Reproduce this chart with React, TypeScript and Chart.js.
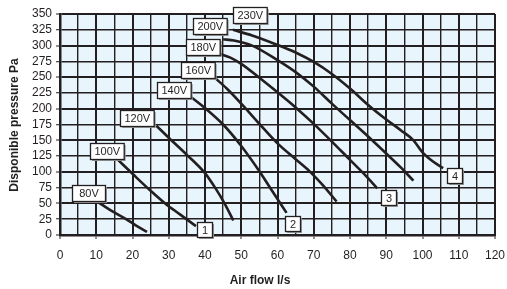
import React, { useEffect, useRef } from "react";
import { Chart, registerables } from "chart.js";

Chart.register(...registerables);

// Air flow (l/s) and pressure (Pa) for each fan curve
const flow80 = [10.5, 14, 18, 21, 24];
const pres80 = [52, 39, 26, 15, 5];
const flow100 = [16, 20, 25, 29, 33, 37.5];
const pres100 = [119, 97, 70, 50, 33, 14];
const flow120 = [26.6, 30, 35, 40, 43, 45.5, 47.8];
const pres120 = [173, 154, 127, 98, 73, 49, 23];
const flow140 = [35.8, 40, 45, 50, 55, 58.5, 62.5];
const pres140 = [220, 201, 175, 141, 101, 70, 35];
const flow160 = [42.5, 46, 50, 55, 60, 65, 69, 72.5, 76.3];
const pres160 = [250, 232, 208, 176, 145, 120, 100, 79, 53];
const flow180 = [44, 47, 50, 55, 60, 65, 70, 75, 80, 84, 87.5];
const pres180 = [287, 281, 271, 249, 226, 202, 176, 148, 119, 96, 74];
const flow200 = [45, 48, 53, 60, 65, 70, 75, 80, 85, 90, 94, 97.5];
const pres200 = [310, 308, 300, 277, 258, 235, 208, 182, 156, 129, 107, 86];
const flow230 = [47.7, 53, 60, 65, 70, 75, 80, 85, 90, 94, 97.5, 100, 103, 105.7];
const pres230 = [325, 316, 301, 289, 274, 255, 232, 206, 183, 166, 150, 131, 116, 106];

// Voltage labels (box centres in data units)
const voltLabels = ["80V", "100V", "120V", "140V", "160V", "180V", "200V", "230V"];
const voltX = [7.9, 13, 21.3, 31.4, 38, 39.4, 41.3, 52.3];
const voltY = [66.6, 133, 185.5, 229, 261, 298, 331, 349];

// Curve-end number labels
const endLabels = ["1", "2", "3", "4"];
const endX = [39.8, 64, 90.5, 108.7];
const endY = [8, 19, 59.5, 93.6];

const xTitle = "Air flow l/s";
const yTitle = "Disponible pressure Pa";

const FONT = "'Liberation Sans', Arial, sans-serif";
const INK = "#231f20";

const curves = [
  [flow80, pres80],
  [flow100, pres100],
  [flow120, pres120],
  [flow140, pres140],
  [flow160, pres160],
  [flow180, pres180],
  [flow200, pres200],
  [flow230, pres230],
];

const annotate = {
  id: "annotate",
  beforeDraw(chart: any) {
    const { ctx, chartArea } = chart;
    ctx.save();
    ctx.fillStyle = "#e8f5fc";
    ctx.fillRect(chartArea.left, chartArea.top, chartArea.right - chartArea.left, chartArea.bottom - chartArea.top);
    ctx.restore();
  },
  afterDraw(chart: any) {
    const { ctx } = chart;
    const xs = chart.scales.x;
    const ys = chart.scales.y;
    const box = (text: string, cx: number, cy: number, minW: number, h: number) => {
      ctx.font = `11px ${FONT}`;
      const tw = ctx.measureText(text).width;
      const w = Math.max(minW, tw + 8);
      const x0 = Math.round(cx - w / 2) + 0.5;
      const y0 = Math.round(cy - h / 2) + 0.5;
      ctx.fillStyle = "#9a9a9a";
      ctx.fillRect(x0 + 1.5, y0 + 1.5, w, h);
      ctx.fillStyle = "#ffffff";
      ctx.fillRect(x0, y0, w, h);
      ctx.strokeStyle = INK;
      ctx.lineWidth = 1.3;
      ctx.strokeRect(x0, y0, w, h);
      ctx.fillStyle = INK;
      ctx.textAlign = "center";
      ctx.textBaseline = "middle";
      ctx.fillText(text, x0 + w / 2, y0 + h / 2 + 0.5);
    };
    ctx.save();
    voltLabels.forEach((t, i) => {
      box(t, xs.getPixelForValue(voltX[i]), ys.getPixelForValue(voltY[i]), 33, 16);
    });
    endLabels.forEach((t, i) => {
      box(t, xs.getPixelForValue(endX[i]), ys.getPixelForValue(endY[i]), 15, 15);
    });
    ctx.fillStyle = INK;
    ctx.font = `bold 12px ${FONT}`;
    ctx.textAlign = "center";
    ctx.textBaseline = "middle";
    ctx.fillText(xTitle, 260, 281);
    ctx.translate(15, 125);
    ctx.rotate(-Math.PI / 2);
    ctx.fillText(yTitle, 0, 0);
    ctx.restore();
  },
};

export default function App() {
  const ref = useRef<HTMLCanvasElement>(null);
  useEffect(() => {
    document.body.style.margin = "0";
    const canvas = ref.current!;
    const chart = new Chart(canvas, {
      type: "line",
      data: {
        datasets: curves.map(([xs, ys]) => ({
          data: xs.map((x, i) => ({ x, y: ys[i] })),
          borderColor: INK,
          borderWidth: 2.6,
          pointRadius: 0,
          fill: false,
          cubicInterpolationMode: "monotone" as const,
          borderCapStyle: "butt" as const,
        })),
      },
      options: {
        responsive: false,
        animation: false,
        layout: { padding: { top: 14, right: 12, left: 0, bottom: 0 } },
        plugins: { legend: { display: false }, tooltip: { enabled: false } },
        scales: {
          x: {
            type: "linear",
            min: 0,
            max: 120,
            afterFit: (s: any) => {
              s.height = 54;
              s.paddingLeft = 0;
              s.paddingRight = 0;
            },
            border: { display: true, color: INK, width: 2.5 },
            grid: {
              color: INK,
              lineWidth: (c: any) => (c.tick && c.tick.value % 10 === 0 ? 2 : 1.4),
              tickColor: (c: any) => (c.tick && c.tick.value % 10 === 0 ? INK : "rgba(0,0,0,0)"),
              tickLength: 4,
              tickWidth: 1,
            },
            ticks: {
              stepSize: 5,
              autoSkip: false,
              maxRotation: 0,
              padding: 9,
              color: INK,
              font: { family: FONT, size: 12 },
              callback: (v: any) => (Number(v) % 10 === 0 ? String(v) : ""),
            },
          },
          y: {
            type: "linear",
            min: 0,
            max: 350,
            afterFit: (s: any) => {
              s.width = 60;
              s.paddingTop = 0;
              s.paddingBottom = 0;
            },
            border: { display: true, color: INK, width: 2.5 },
            grid: {
              color: INK,
              lineWidth: (c: any) => (c.tick && c.tick.value % 50 === 0 ? 2 : 1.5),
              tickColor: INK,
              tickLength: 4,
              tickWidth: 1,
            },
            ticks: {
              stepSize: 25,
              autoSkip: false,
              padding: 4,
              color: INK,
              font: { family: FONT, size: 12 },
            },
          },
        },
      },
      plugins: [annotate],
    });
    return () => chart.destroy();
  }, []);
  return (
    <div style={{ width: 507, height: 289 }}>
      <canvas ref={ref} width={507} height={289} />
    </div>
  );
}
